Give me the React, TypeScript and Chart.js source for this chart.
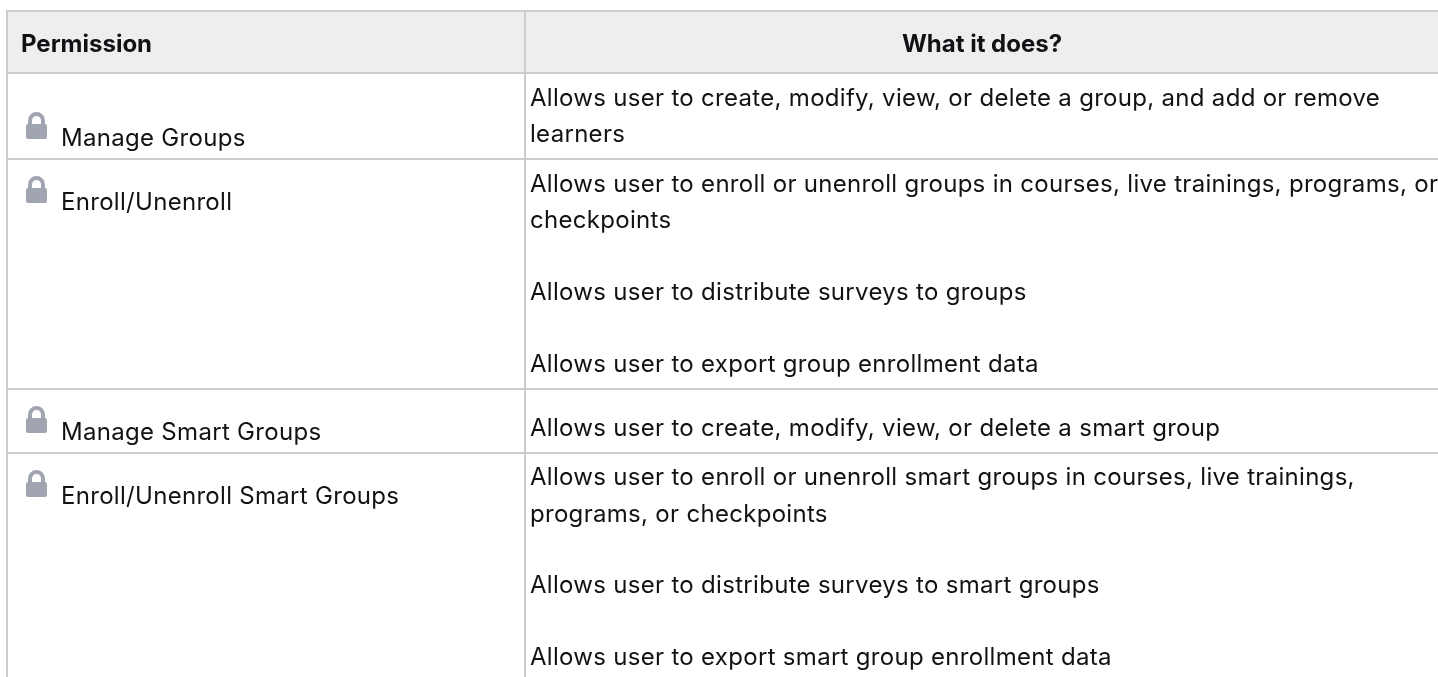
import React, { useEffect, useRef } from "react";
import { Chart, registerables } from "chart.js";

Chart.register(...registerables);

const headerLabels = ["Permission", "What it does?"];
const permissions = ["Manage Groups", "Enroll/Unenroll", "Manage Smart Groups", "Enroll/Unenroll Smart Groups"];
const permissionBaselines = [146, 210, 440, 504];
const lockCentres = [125.5, 189.5, 419.5, 483.5];
const descriptionLines = [
  "Allows user to create, modify, view, or delete a group, and add or remove",
  "learners",
  "Allows user to enroll or unenroll groups in courses, live trainings, programs, or",
  "checkpoints",
  "Allows user to distribute surveys to groups",
  "Allows user to export group enrollment data",
  "Allows user to create, modify, view, or delete a smart group",
  "Allows user to enroll or unenroll smart groups in courses, live trainings,",
  "programs, or checkpoints",
  "Allows user to distribute surveys to smart groups",
  "Allows user to export smart group enrollment data",
];
const descriptionBaselines = [106, 142, 192, 228, 300, 372, 436, 485, 522, 593, 665];
const ruleRows = [11, 73, 159, 389, 453];
const ruleColumns = [7, 525];

const FONT = '"Inter", sans-serif';
const BODY_SIZE = 24;

function lockIcon(): HTMLCanvasElement {
  const c = document.createElement("canvas");
  c.width = 23;
  c.height = 29;
  const g = c.getContext("2d")!;
  g.translate(1, 1);
  g.filter = "blur(0.5px)";
  g.fillStyle = "#a0a5b1";
  g.strokeStyle = "#a0a5b1";
  g.beginPath();
  g.roundRect(0, 12, 21, 15, 2);
  g.fill();
  g.lineWidth = 4;
  g.beginPath();
  g.moveTo(4, 13);
  g.lineTo(4, 8.5);
  g.arc(10.5, 8.5, 6.5, Math.PI, 0);
  g.lineTo(17, 13);
  g.stroke();
  return c;
}

const tablePlugin = {
  id: "table",
  beforeDatasetsDraw(chart: any) {
    const { ctx, scales } = chart;
    const x = scales.x;
    const y = scales.y;
    ctx.save();
    ctx.fillStyle = "#eeeeee";
    ctx.fillRect(x.getPixelForValue(7), y.getPixelForValue(11), 1431, 62);
    ctx.restore();
  },
  afterDatasetsDraw(chart: any) {
    const { ctx, scales } = chart;
    const x = scales.x;
    const y = scales.y;
    ctx.save();
    ctx.textBaseline = "alphabetic";
    ctx.fillStyle = "#111215";
    ctx.font = `700 ${BODY_SIZE}px ${FONT}`;
    ctx.letterSpacing = "0px";
    ctx.textAlign = "left";
    ctx.fillText(headerLabels[0], x.getPixelForValue(21), y.getPixelForValue(52));
    ctx.textAlign = "center";
    ctx.fillText(headerLabels[1], x.getPixelForValue(982), y.getPixelForValue(52));
    ctx.textAlign = "left";
    ctx.font = `400 ${BODY_SIZE}px ${FONT}`;
    ctx.letterSpacing = "0.3px";
    permissions.forEach((p, i) => ctx.fillText(p, x.getPixelForValue(61), y.getPixelForValue(permissionBaselines[i])));
    descriptionLines.forEach((l, i) => ctx.fillText(l, x.getPixelForValue(530), y.getPixelForValue(descriptionBaselines[i])));
    ctx.restore();
  },
};

export default function App() {
  const ref = useRef<HTMLCanvasElement>(null);
  useEffect(() => {
    document.body.style.margin = "0";
    const rule = "#cccccc";
    const lineStyle = { type: "line" as const, borderColor: rule, borderWidth: 2, pointRadius: 0, clip: false };
    const chart = new Chart(ref.current!, {
      type: "scatter",
      data: {
        datasets: [
          ...ruleRows.map((r) => ({ ...lineStyle, data: [{ x: 6, y: r }, { x: 1438, y: r }] })),
          ...ruleColumns.map((c) => ({ ...lineStyle, data: [{ x: c, y: 10 }, { x: c, y: 677 }] })),
          {
            type: "scatter",
            data: lockCentres.map((c) => ({ x: 36.5, y: c })),
            pointStyle: lockIcon() as any,
            pointRadius: 12,
          },
        ] as any,
      },
      options: {
        responsive: false,
        animation: false,
        layout: { padding: 0, autoPadding: false },
        plugins: { legend: { display: false }, tooltip: { enabled: false } },
        scales: {
          x: { type: "linear", display: false, min: 0, max: 1438 },
          y: { type: "linear", display: false, min: 0, max: 677, reverse: true },
        },
      },
      plugins: [tablePlugin],
    });
    return () => chart.destroy();
  }, []);
  return <canvas ref={ref} width={1438} height={677} style={{ display: "block" }} />;
}
